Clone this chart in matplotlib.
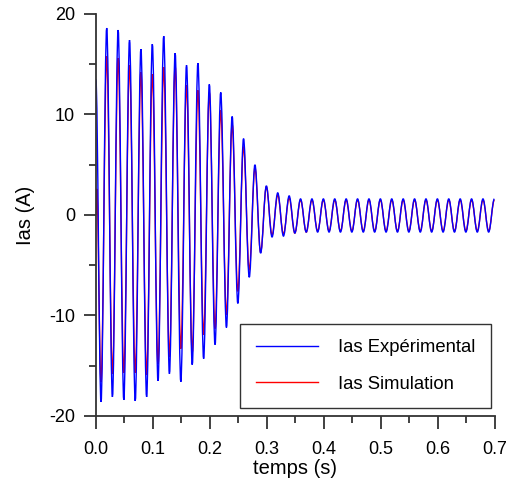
# Courant statorique Ias : mesure vs simulation au démarrage
import numpy as np
import matplotlib.pyplot as plt
from matplotlib.path import Path
from matplotlib.patches import PathPatch
from matplotlib.lines import Line2D

plt.rcParams['font.family'] = ['Liberation Sans', 'DejaVu Sans']
plt.rcParams['axes.unicode_minus'] = False

# extremums (creux à 0.009 s + k*0.02, crêtes à 0.019 s + k*0.02)
exp_start = (0.0, 13.5)
exp_troughs = [-18.6, -18.1, -18.4, -18.5, -18.1, -16.5, -15.8, -16.6, -14.9, -14.3,
               -12.9, -11.2, -8.8, -6.2, -3.8, -2.2, -2.1, -1.8, -1.7, -1.7,
               -1.7, -1.7, -1.7, -1.7, -1.7, -1.7, -1.7, -1.7, -1.7, -1.7,
               -1.7, -1.7, -1.7, -1.7, -1.7]
exp_peaks = [18.6, 18.4, 17.4, 16.5, 17.0, 17.8, 16.1, 14.9, 15.1, 13.0,
             12.2, 9.8, 7.6, 5.0, 2.9, 2.2, 1.9, 1.6, 1.6, 1.6,
             1.6, 1.6, 1.6, 1.6, 1.6, 1.6, 1.6, 1.6, 1.6, 1.6,
             1.6, 1.6, 1.6, 1.6, 1.6]

sim_start = [(0.0, 0.0), (0.0015, 2.6)]
sim_troughs = [-16.6, -15.8, -15.7, -15.7, -15.9, -14.8, -14.1, -13.3, -13.7, -11.9,
               -11.3, -9.9, -7.6, -5.5, -3.7, -2.0, -1.9, -1.8, -1.7, -1.6,
               -1.6, -1.6, -1.6, -1.6, -1.6, -1.6, -1.6, -1.6, -1.6, -1.6,
               -1.6, -1.6, -1.6, -1.6, -1.6]
sim_peaks = [15.8, 15.6, 14.9, 14.2, 14.0, 14.7, 14.8, 12.9, 12.4, 12.2,
             10.4, 9.0, 6.8, 4.7, 2.8, 2.0, 1.7, 1.5, 1.5, 1.5,
             1.5, 1.5, 1.5, 1.5, 1.5, 1.5, 1.5, 1.5, 1.5, 1.5,
             1.5, 1.5, 1.5, 1.5, 1.5]

t_troughs = 0.009 + 0.02 * np.arange(35)
t_peaks = 0.019 + 0.02 * np.arange(35)


def extrema(start, troughs, peaks):
    pts = list(start)
    for tt, vt, tp, vp in zip(t_troughs, troughs, t_peaks, peaks):
        pts.append((tt, vt))
        pts.append((tp, vp))
    return pts


def wave_path(pts):
    # courbes de Bézier à tangente horizontale entre extremums
    k = 0.3634
    verts = [pts[0]]
    codes = [Path.MOVETO]
    for (t0, y0), (t1, y1) in zip(pts[:-1], pts[1:]):
        dt = t1 - t0
        verts += [(t0 + k * dt, y0), (t1 - k * dt, y1), (t1, y1)]
        codes += [Path.CURVE4] * 3
    return Path(verts, codes)


fig = plt.figure(figsize=(5.1, 4.87), dpi=100)
ax = fig.add_axes([0.188, 0.1458, 0.7825, 0.8255])

ax.add_patch(PathPatch(wave_path(extrema(sim_start, sim_troughs, sim_peaks)),
                       fill=False, edgecolor='red', lw=1.0))
ax.add_patch(PathPatch(wave_path(extrema([exp_start], exp_troughs, exp_peaks)),
                       fill=False, edgecolor='blue', lw=1.0))

ax.set_xlim(0, 0.7)
ax.set_ylim(-20, 20)
ax.set_xticks(np.arange(0, 0.71, 0.1))
ax.set_xticklabels(['0.0', '0.1', '0.2', '0.3', '0.4', '0.5', '0.6', '0.7'])
ax.set_xticks(np.arange(0.05, 0.7, 0.1), minor=True)
ax.set_yticks([-20, -10, 0, 10, 20])
ax.set_yticks([-15, -5, 5, 15], minor=True)

ax.spines['top'].set_visible(False)
ax.spines['right'].set_visible(False)
for s in ['left', 'bottom']:
    ax.spines[s].set_linewidth(1.3)
    ax.spines[s].set_color('#333333')
ax.tick_params(which='major', direction='out', length=9, width=1.3, color='#333333',
               labelsize=13, pad=6)
ax.tick_params(which='minor', direction='out', length=5, width=1.3, color='#333333')
ax.tick_params(axis='x', which='major', pad=9)

ax.set_xlabel('temps (s)', fontsize=14.5, labelpad=1)
ax.set_ylabel('Ias (A)', fontsize=14.5, labelpad=10)

handles = [Line2D([], [], color='blue', lw=1.0), Line2D([], [], color='red', lw=1.0)]
leg = ax.legend(handles, ['Ias Expérimental', 'Ias Simulation'], loc='lower right',
                bbox_to_anchor=(0.99, 0.019), borderaxespad=0, fontsize=13.3,
                handlelength=3.35, handletextpad=1.1, labelspacing=1.05,
                borderpad=0.85, fancybox=False, framealpha=1)
leg.get_frame().set_edgecolor('#333333')
leg.get_frame().set_linewidth(1.0)

plt.savefig('out.png', dpi=100)
